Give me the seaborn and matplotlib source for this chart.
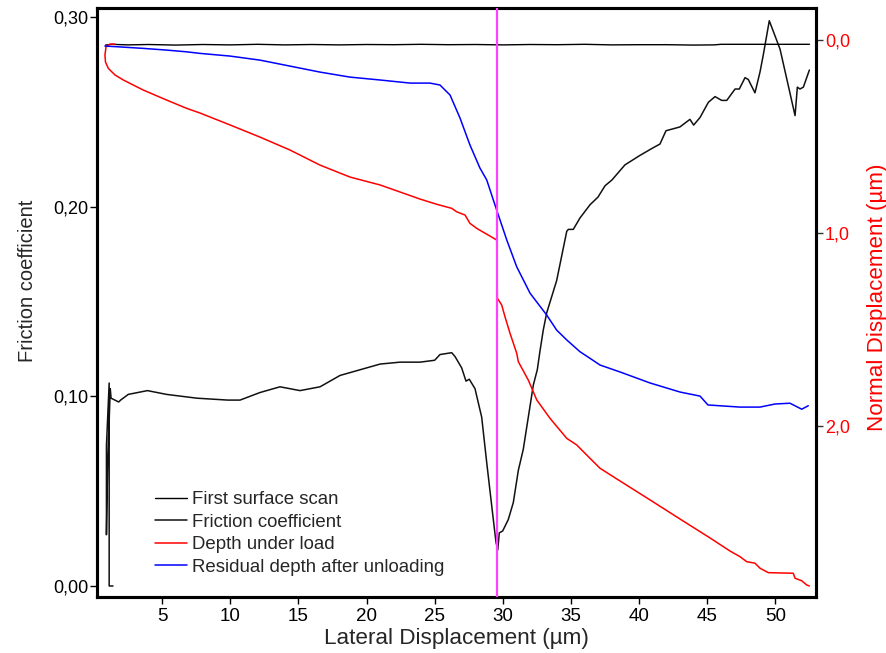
import numpy as np
import pandas as pd
import seaborn as sns
import matplotlib.pyplot as plt
from matplotlib.ticker import FuncFormatter, FixedLocator

# Friction coefficient (left axis)
fric_x = [1.40, 1.12, 1.12, 0.92, 0.92, 1.00, 1.20, 1.26, 1.82, 1.96, 2.52, 3.93, 5.33, 7.56, 9.82,
          10.72, 12.19, 13.65, 14.39, 15.12, 16.59, 18.06, 19.53, 21.00, 22.46, 23.93, 25.00,
          25.39, 26.25, 26.49, 26.98, 27.30, 27.54, 27.96, 28.45, 28.82, 29.19, 29.50, 29.63,
          29.74, 29.99, 30.40, 30.77, 31.14, 31.50, 31.87, 32.24, 32.53, 32.73, 32.97,
          33.22, 33.95, 34.32, 34.69, 34.81, 35.17, 35.66, 36.40, 36.98, 37.50, 38.00, 38.96,
          40.06, 41.02, 41.53, 41.97, 42.99, 43.73, 44.00, 44.47, 45.08, 45.57, 46.06, 46.43,
          47.04, 47.35, 47.77, 48.01, 48.50, 48.87, 49.11, 49.55, 50.34, 51.44, 51.61, 51.80,
          52.05, 52.49]
fric_y = [0.000, 0.000, 0.107, 0.074, 0.027, 0.062, 0.104, 0.099, 0.097, 0.098, 0.101, 0.103, 0.101,
          0.099, 0.098, 0.098, 0.102, 0.105, 0.104, 0.103, 0.105, 0.111, 0.114, 0.117, 0.118,
          0.118, 0.119, 0.122, 0.123, 0.121, 0.115, 0.108, 0.109, 0.104, 0.089, 0.065, 0.042,
          0.023, 0.019, 0.028, 0.029, 0.035, 0.044, 0.061, 0.072, 0.089, 0.106, 0.114, 0.124,
          0.135, 0.144, 0.161, 0.174, 0.187, 0.188, 0.188, 0.194, 0.201, 0.205, 0.211, 0.214,
          0.222, 0.227, 0.231, 0.233, 0.240, 0.242, 0.246, 0.243, 0.247, 0.255, 0.258, 0.256,
          0.256, 0.262, 0.262, 0.268, 0.267, 0.260, 0.271, 0.280, 0.298, 0.283, 0.248, 0.263,
          0.262, 0.263, 0.272]

# First surface scan (right axis, um)
scan_x = [0.85, 1.3, 2.5, 4.0, 6.0, 8.0, 10.0, 12.0, 14.0, 16.0, 18.0, 20.0, 22.0, 24.0, 26.0,
          28.0, 30.0, 32.0, 34.0, 36.0, 38.0, 40.0, 42.0, 44.0, 45.5, 46.0, 48.0, 50.0, 52.5]
scan_y = [0.026, 0.022, 0.025, 0.023, 0.026, 0.023, 0.025, 0.022, 0.025, 0.023, 0.025, 0.023,
          0.024, 0.022, 0.024, 0.023, 0.025, 0.023, 0.024, 0.022, 0.025, 0.024, 0.024, 0.026,
          0.025, 0.022, 0.022, 0.022, 0.022]

# Depth under load (right axis, um)
depth_x = [1.55, 1.18, 0.89, 0.81, 0.85, 1.06, 1.55, 2.16, 3.62, 5.34, 6.81, 7.78, 9.99, 12.19,
           14.39, 16.59, 18.79, 21.00, 23.93, 25.15, 26.25, 26.62, 27.23, 27.59, 28.09, 29.55,
           29.60, 29.92, 30.16, 30.53, 31.02, 31.14, 31.87, 32.49, 33.46, 34.69, 35.42, 36.15,
           37.13, 38.60, 40.80, 43.00, 45.20, 46.67, 47.40, 47.89, 48.50, 48.87, 49.48, 51.31,
           51.44, 51.93, 52.30, 52.49]
depth_y = [0.021, 0.021, 0.034, 0.078, 0.114, 0.147, 0.181, 0.207, 0.259, 0.311, 0.354, 0.378,
           0.440, 0.503, 0.570, 0.648, 0.710, 0.751, 0.824, 0.851, 0.872, 0.890, 0.907, 0.950,
           0.976, 1.036, 1.338, 1.373, 1.434, 1.520, 1.623, 1.667, 1.762, 1.865, 1.960, 2.064,
           2.098, 2.150, 2.219, 2.285, 2.383, 2.482, 2.580, 2.648, 2.677, 2.703, 2.711, 2.737,
           2.760, 2.763, 2.789, 2.802, 2.824, 2.829]

# Residual depth after unloading (right axis, um)
resid_x = [0.81, 1.79, 3.60, 5.34, 6.81, 7.78, 9.99, 12.19, 14.39, 16.59, 18.79, 21.00, 23.20,
           24.66, 25.39, 26.13, 26.86, 27.59, 28.32, 28.82, 29.55, 30.29, 31.02, 32.00, 33.22,
           33.95, 34.69, 35.66, 36.39, 37.13, 38.60, 40.80, 43.00, 44.47, 45.05, 47.40, 48.87,
           49.97, 51.07, 51.93, 52.41]
resid_y = [0.031, 0.035, 0.043, 0.052, 0.061, 0.069, 0.083, 0.104, 0.135, 0.166, 0.192, 0.207,
           0.223, 0.223, 0.233, 0.285, 0.404, 0.544, 0.663, 0.725, 0.881, 1.036, 1.175, 1.312,
           1.425, 1.503, 1.554, 1.615, 1.649, 1.684, 1.720, 1.777, 1.824, 1.845, 1.891, 1.902,
           1.902, 1.886, 1.882, 1.913, 1.895]

cut_x = 29.6
x_ticks = [5, 10, 15, 20, 25, 30, 35, 40, 45, 50]
left_ticks = [0.0, 0.1, 0.2, 0.3]
right_ticks = [0.0, 1.0, 2.0]

sns.set_style("ticks")
plt.rcParams['font.family'] = ['Liberation Sans', 'DejaVu Sans']

fig = plt.figure(figsize=(8.87, 6.53), dpi=100)
ax = fig.add_axes([0.1094, 0.0858, 0.8106, 0.9019])
ax2 = ax.twinx()

sns.lineplot(x=fric_x, y=fric_y, ax=ax, sort=False, estimator=None, color='#111111', lw=1.1)
sns.lineplot(x=scan_x, y=scan_y, ax=ax2, sort=False, estimator=None, color='black', lw=1.0)
sns.lineplot(x=depth_x, y=depth_y, ax=ax2, sort=False, estimator=None, color='#ff0000', lw=1.1)
sns.lineplot(x=resid_x, y=resid_y, ax=ax2, sort=False, estimator=None, color='#0000ff', lw=1.1)
ax2.axvline(cut_x, color='#ff40ff', lw=1.6, zorder=5)

ax.set_xlim(0.23, 52.98)
ax.set_ylim(-0.0058, 0.3047)
ax2.set_ylim(2.886, -0.166)

ax.xaxis.set_major_locator(FixedLocator(x_ticks))
ax.yaxis.set_major_locator(FixedLocator(left_ticks))
ax2.yaxis.set_major_locator(FixedLocator(right_ticks))
ax.yaxis.set_major_formatter(FuncFormatter(lambda v, _: f"{v:.2f}".replace('.', ',')))
ax2.yaxis.set_major_formatter(FuncFormatter(lambda v, _: f"{v:.1f}".replace('.', ',')))

for a in (ax, ax2):
    for s in a.spines.values():
        s.set_linewidth(2.2)
        s.set_color('black')
        s.set_visible(True)

ax.tick_params(axis='both', direction='out', length=5, width=1.0, labelsize=13, pad=1.5, colors='black')
ax.tick_params(axis='x', pad=3, labelsize=13.5)
ax2.tick_params(axis='y', direction='out', length=5, width=1.0, labelsize=13, pad=1.5,
                color='#333333', labelcolor='#ff0000')

ax.set_xlabel('Lateral Displacement (µm)', fontsize=16.2, labelpad=2)
ax.set_ylabel('Friction coefficient', fontsize=14.5, labelpad=11, y=0.5365)
ax2.set_ylabel('Normal Displacement (µm)', fontsize=16.1, color='#ff0000', labelpad=12, y=0.509)

labels = ['First surface scan', 'Friction coefficient', 'Depth under load',
          'Residual depth after unloading']
handles = [ax2.lines[0], ax.lines[0], ax2.lines[1], ax2.lines[2]]
ax2.legend(handles, labels, loc='upper left', bbox_to_anchor=(0.0704, 0.1918), frameon=False,
           fontsize=13.4, handlelength=1.7, handletextpad=0.27, labelspacing=0.29, borderaxespad=0)

fig.savefig('out.png', dpi=100)
